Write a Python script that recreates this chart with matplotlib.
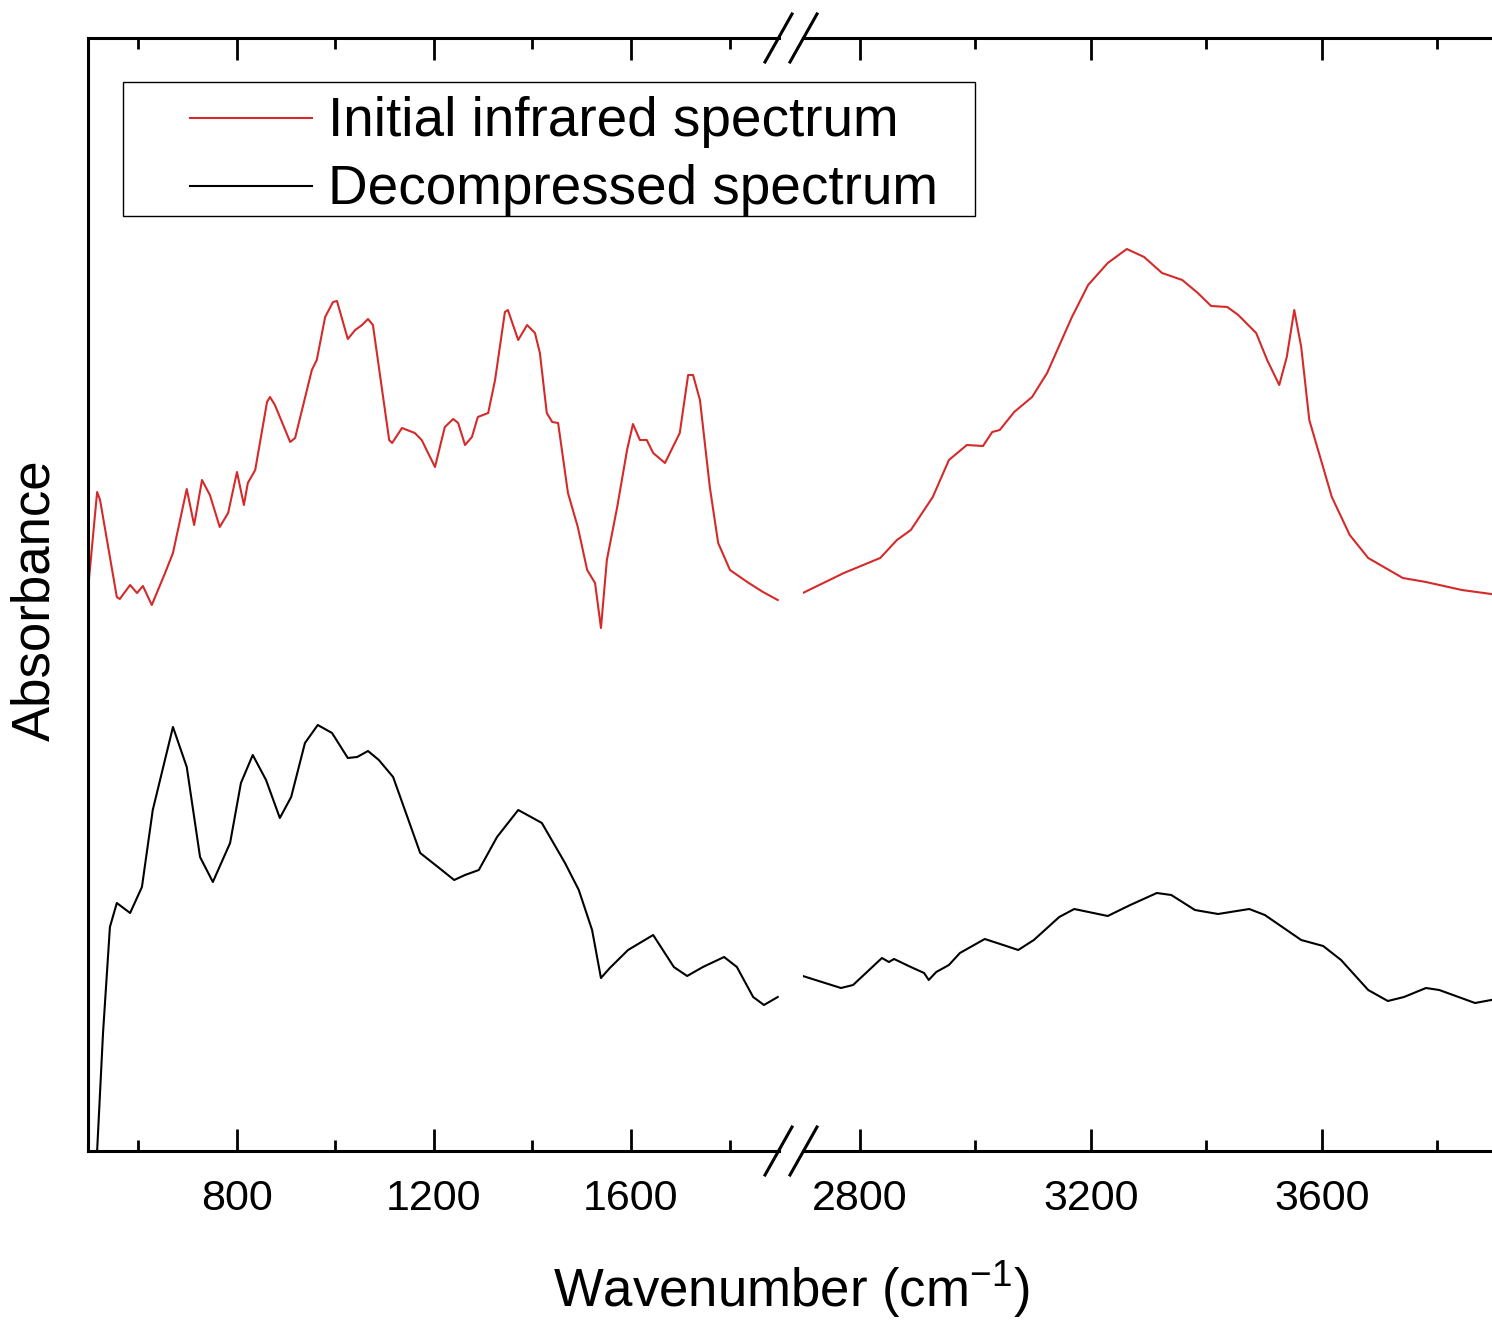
import matplotlib
matplotlib.use('Agg')
import matplotlib.pyplot as plt
from matplotlib.lines import Line2D
from matplotlib.patches import Rectangle

plt.rcParams['font.family'] = ['Liberation Sans', 'DejaVu Sans']
plt.rcParams['mathtext.fontset'] = 'custom'
plt.rcParams['mathtext.rm'] = 'Liberation Sans'
plt.rcParams['mathtext.it'] = 'Liberation Sans'

# Initial infrared spectrum, low-wavenumber segment
red_low_wn = [498, 516, 522, 556, 562, 583, 597, 609, 627, 654, 670, 698, 713, 729, 745,
              765, 782, 800, 814, 822, 837, 861, 867, 877, 908, 918, 952, 962, 979, 995,
              1003, 1025, 1040, 1054, 1066, 1076, 1109, 1115, 1135, 1161, 1175, 1202, 1222,
              1239, 1249, 1263, 1277, 1289, 1310, 1324, 1344, 1350, 1371, 1389, 1405, 1415,
              1429, 1440, 1452, 1472, 1492, 1511, 1527, 1539, 1551, 1572, 1592, 1604, 1618,
              1632, 1645, 1669, 1685, 1699, 1716, 1726, 1740, 1760, 1777, 1801, 1836, 1868, 1898]
red_low_abs = [0.564, 0.659, 0.651, 0.554, 0.552, 0.566, 0.558, 0.565, 0.546, 0.578, 0.598,
               0.662, 0.626, 0.671, 0.656, 0.624, 0.638, 0.679, 0.646, 0.668, 0.681, 0.749,
               0.754, 0.746, 0.709, 0.713, 0.781, 0.791, 0.834, 0.849, 0.850, 0.812, 0.821,
               0.826, 0.832, 0.826, 0.711, 0.708, 0.723, 0.718, 0.711, 0.684, 0.724, 0.732,
               0.728, 0.706, 0.714, 0.734, 0.738, 0.771, 0.839, 0.841, 0.811, 0.826, 0.818,
               0.798, 0.738, 0.729, 0.728, 0.658, 0.624, 0.581, 0.568, 0.523, 0.591, 0.644,
               0.701, 0.727, 0.711, 0.711, 0.698, 0.688, 0.704, 0.718, 0.776, 0.776, 0.751,
               0.664, 0.608, 0.581, 0.569, 0.559, 0.551]

# Initial infrared spectrum, high-wavenumber segment
red_high_wn = [2701, 2772, 2835, 2864, 2888, 2926, 2954, 2985, 3013, 3029, 3042, 3067, 3098,
               3124, 3167, 3195, 3229, 3262, 3292, 3323, 3358, 3385, 3408, 3436, 3455, 3486,
               3505, 3526, 3539, 3552, 3564, 3578, 3617, 3648, 3680, 3740, 3780, 3842, 3893]
red_high_abs = [0.558, 0.578, 0.593, 0.611, 0.621, 0.654, 0.691, 0.706, 0.705, 0.719, 0.721,
                0.739, 0.754, 0.778, 0.834, 0.866, 0.888, 0.902, 0.894, 0.878, 0.871, 0.858,
                0.845, 0.844, 0.836, 0.818, 0.791, 0.766, 0.794, 0.841, 0.804, 0.731, 0.654,
                0.616, 0.593, 0.573, 0.569, 0.561, 0.557]

# Decompressed spectrum, low-wavenumber segment
black_low_wn = [514, 528, 542, 556, 583, 607, 629, 670, 698, 725, 751, 786, 808, 832, 859,
                887, 910, 938, 964, 993, 1025, 1044, 1066, 1088, 1117, 1172, 1208, 1241, 1263,
                1291, 1328, 1371, 1397, 1419, 1466, 1494, 1521, 1539, 1557, 1594, 1645, 1687,
                1714, 1746, 1789, 1815, 1848, 1870, 1898]
black_low_abs = [-0.02, 0.118, 0.224, 0.248, 0.238, 0.264, 0.341, 0.424, 0.384, 0.294, 0.269,
                 0.308, 0.368, 0.396, 0.371, 0.333, 0.354, 0.408, 0.426, 0.418, 0.393, 0.394,
                 0.400, 0.391, 0.374, 0.298, 0.284, 0.271, 0.276, 0.281, 0.314, 0.341, 0.334,
                 0.328, 0.288, 0.261, 0.221, 0.173, 0.183, 0.201, 0.216, 0.184, 0.175, 0.184,
                 0.194, 0.184, 0.154, 0.146, 0.154]

# Decompressed spectrum, high-wavenumber segment
black_high_wn = [2701, 2767, 2788, 2838, 2850, 2859, 2888, 2911, 2919, 2932, 2954, 2973, 3016,
                 3048, 3074, 3101, 3145, 3171, 3229, 3268, 3314, 3339, 3380, 3420, 3474, 3501,
                 3564, 3602, 3633, 3680, 3714, 3742, 3780, 3803, 3865, 3893]
black_high_abs = [0.175, 0.163, 0.166, 0.193, 0.189, 0.192, 0.184, 0.178, 0.171, 0.179, 0.186,
                  0.198, 0.212, 0.206, 0.201, 0.211, 0.234, 0.242, 0.235, 0.246, 0.258, 0.256,
                  0.241, 0.237, 0.242, 0.236, 0.211, 0.205, 0.191, 0.161, 0.150, 0.154, 0.163,
                  0.161, 0.148, 0.151]

RED = '#d42a2a'
W, H = 1492, 1322


def fx(px):
    return px / W


def fy(py):
    return (H - py) / H


fig = plt.figure(figsize=(W / 100, H / 100), dpi=100)
fig.patch.set_facecolor('white')

bottom, top = fy(1151), fy(38)
ax1 = fig.add_axes([fx(88), bottom, fx(779) - fx(88), top - bottom])
ax2 = fig.add_axes([fx(803), bottom, fx(1553) - fx(803), top - bottom])

ax1.plot(red_low_wn, red_low_abs, color=RED, lw=1.5)
ax1.plot(black_low_wn, black_low_abs, color='black', lw=1.5)
ax2.plot(red_high_wn, red_high_abs, color=RED, lw=1.5)
ax2.plot(black_high_wn, black_high_abs, color='black', lw=1.5)

ax1.set_xlim(497.5, 1900.5)
ax2.set_xlim(2701.3, 4000)
for ax in (ax1, ax2):
    ax.set_ylim(0, 1.113)
    ax.set_yticks([])
    ax.patch.set_alpha(0)
    for s in ax.spines.values():
        s.set_linewidth(2.2)
    ax.tick_params(axis='x', which='both', direction='in', top=True, bottom=True,
                   width=2.0, labelsize=31, pad=20)
    ax.tick_params(axis='x', which='major', length=16)
    ax.tick_params(axis='x', which='minor', length=8)

ax1.spines['right'].set_visible(False)
ax2.spines['left'].set_visible(False)
ax1.set_xticks([800, 1200, 1600])
ax1.set_xticks([600, 1000, 1400, 1800], minor=True)
ax2.set_xticks([2800, 3200, 3600])
ax2.set_xticks([3000, 3400, 3800], minor=True)

# break marks
for cx in (778.5, 803.5):
    for cy in (1151, 38):
        fig.add_artist(Line2D([fx(cx - 13.5), fx(cx + 13.5)], [fy(cy + 24), fy(cy - 24)],
                              color='black', lw=2.2, transform=fig.transFigure))

# legend
fig.add_artist(Rectangle((fx(123), fy(216)), fx(975) - fx(123), fy(82) - fy(216),
                         transform=fig.transFigure, fill=False, edgecolor='black', lw=1.0))
for yy, col, lab in ((118, RED, 'Initial infrared spectrum'),
                     (186, 'black', 'Decompressed spectrum')):
    fig.add_artist(Line2D([fx(190), fx(312)], [fy(yy), fy(yy)], color=col, lw=1.5,
                          transform=fig.transFigure))
    fig.text(fx(328), fy(yy + 4), lab, fontsize=39.5, ha='left', va='center')

fig.text(fx(791), fy(1290), 'Wavenumber (cm$^{-1}$)', fontsize=38, ha='center', va='center')
fig.text(fx(35), fy(600), 'Absorbance', fontsize=38, rotation=90, ha='center', va='center')

fig.savefig('out.png', dpi=100, facecolor='white')
